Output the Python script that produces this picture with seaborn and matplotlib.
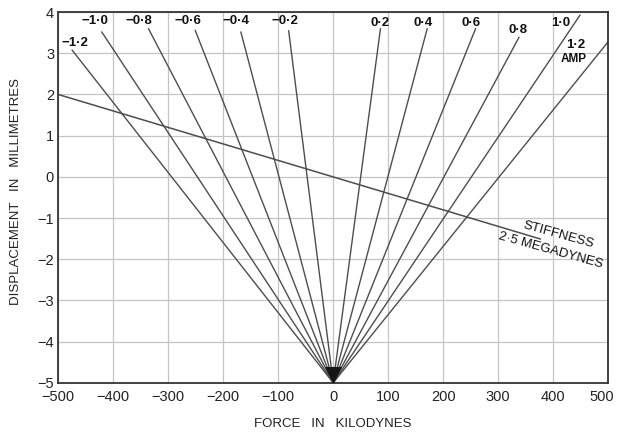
import matplotlib
matplotlib.use("Agg")
import matplotlib.pyplot as plt
import matplotlib.transforms as mtransforms
import seaborn as sns
import pandas as pd

# ---- data ----
currents = [-1.2, -1.0, -0.8, -0.6, -0.4, -0.2, 0.2, 0.4, 0.6, 0.8, 1.0, 1.2]
origin_force = 0
origin_disp = -5
end_force = [-475, -421, -336, -251, -168, -81, 86, 171, 259, 338, 449, 500]
end_disp = [3.08, 3.52, 3.60, 3.56, 3.52, 3.55, 3.60, 3.60, 3.60, 3.39, 3.93, 3.28]
current_labels = ["\u22121\u00b72", "\u22121\u00b70", "\u22120\u00b78", "\u22120\u00b76",
                  "\u22120\u00b74", "\u22120\u00b72", "0\u00b72", "0\u00b74", "0\u00b76",
                  "0\u00b78", "1\u00b70", "1\u00b72"]
stiff_force = [-500, 377]
stiff_disp = [2.0, -1.51]
x_ticks = [-500, -400, -300, -200, -100, 0, 100, 200, 300, 400, 500]
y_ticks = [-5, -4, -3, -2, -1, 0, 1, 2, 3, 4]

# label layout (positions of the current annotations)
label_x = [-469, -434, -353, -264, -176, -87, 86, 163, 250, 337, 414, 441]
label_y = [3.25, 3.79, 3.79, 3.79, 3.79, 3.79, 3.74, 3.74, 3.74, 3.56, 3.74, 3.20]

sns.set_style("white")
plt.rcParams["font.family"] = ["Liberation Sans", "DejaVu Sans"]

rows = []
for c, f, d in zip(currents, end_force, end_disp):
    rows.append({"current": c, "force": origin_force, "disp": origin_disp})
    rows.append({"current": c, "force": f, "disp": d})
df = pd.DataFrame(rows)
stiff = pd.DataFrame({"force": stiff_force, "disp": stiff_disp})

fig = plt.figure(figsize=(6.18, 4.33), dpi=100)
ax = fig.add_axes([0.0943, 0.116, 0.8897, 0.856])

for v in x_ticks:
    ax.axvline(v, color="#c4c4c4", lw=0.9, zorder=0)
for v in y_ticks:
    ax.axhline(v, color="#c4c4c4", lw=0.9, zorder=0)

sns.lineplot(data=df, x="force", y="disp", units="current", estimator=None,
             sort=False, color="#4d4d4d", lw=1.0, ax=ax, legend=False)
sns.lineplot(data=stiff, x="force", y="disp", estimator=None, sort=False,
             color="#4d4d4d", lw=1.1, ax=ax, legend=False)

# dark convergence blob near the origin
ax.scatter([0], [-4.8], marker="v", s=150, color="#151515", alpha=1.0,
           zorder=3, linewidths=0)

for lab, lx, ly in zip(current_labels, label_x, label_y):
    ax.text(lx, ly, lab, ha="center", va="center", fontsize=9.5,
            fontweight="bold", color="#111111")
ax.text(437, 2.86, "AMP", ha="center", va="center", fontsize=8.5,
        fontweight="bold", color="#111111")

ax.text(410, -1.40, "STIFFNESS", ha="center", va="center", fontsize=9.5,
        rotation=-15.5, color="#111111")
ax.text(395, -1.79, "2\u00b75 MEGADYNES", ha="center", va="center", fontsize=9.5,
        rotation=-15.5, color="#111111")

ax.set_xlim(-500, 500)
ax.set_ylim(-5, 4)
ax.set_xticks(x_ticks)
ax.set_yticks(y_ticks)
ax.set_xticklabels([("\u2212" + str(-t)) if t < 0 else str(t) for t in x_ticks])
ax.set_yticklabels([("\u2212" + str(-t)) if t < 0 else str(t) for t in y_ticks])
ax.tick_params(axis="both", length=0, labelsize=10.5, colors="#222222")
ax.tick_params(axis="x", pad=5)
ax.tick_params(axis="y", pad=3)
for s in ax.spines.values():
    s.set_color("#333333")
    s.set_linewidth(1.3)

# keep the last x tick label inside the figure
last = ax.get_xticklabels()[-1]
last.set_transform(last.get_transform() +
                   mtransforms.ScaledTranslation(-6 / 100, 0, fig.dpi_scale_trans))

ax.set_xlabel("FORCE   IN   KILODYNES", fontsize=9.5, labelpad=10, color="#222222")
ax.set_ylabel("DISPLACEMENT   IN   MILLIMETRES", fontsize=9.5, color="#222222")
ax.yaxis.set_label_coords(-0.066, 0.515)

fig.savefig("out.png", dpi=100)
